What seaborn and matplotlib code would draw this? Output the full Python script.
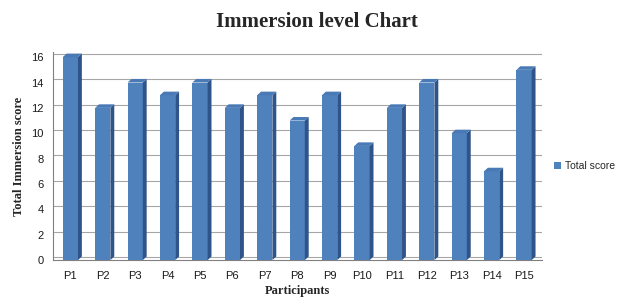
import matplotlib
matplotlib.use("Agg")
import matplotlib.pyplot as plt
from matplotlib.patches import Polygon
import seaborn as sns
import pandas as pd

participants = ["P1", "P2", "P3", "P4", "P5", "P6", "P7", "P8", "P9", "P10",
                "P11", "P12", "P13", "P14", "P15"]
total_score = [16, 12, 14, 13, 14, 12, 13, 11, 13, 9, 12, 14, 10, 7, 15]
yticks = [0, 2, 4, 6, 8, 10, 12, 14, 16]

df = pd.DataFrame({"Participant": participants, "Total score": total_score})

sns.set_theme(style="white")
plt.rcParams["font.family"] = ["Liberation Sans", "DejaVu Sans"]

fig = plt.figure(figsize=(6.33, 3.01), dpi=100)
ax = fig.add_axes([0.083, 0.136, 0.773, 0.691])

front = "#4F81BD"
side = "#2F5489"
sns.barplot(data=df, x="Participant", y="Total score", color=front,
            width=0.47, saturation=1, ax=ax, label="Total score", zorder=3,
            linewidth=0, edgecolor="none")

# 3D-like side and top faces derived from the bars
dx, dy = 0.12, 0.28
for p in list(ax.patches):
    x0, w, h = p.get_x(), p.get_width(), p.get_height()
    ax.add_patch(Polygon([(x0 + w, 0), (x0 + w, h), (x0 + w + dx, h + dy), (x0 + w + dx, dy)],
                         closed=True, facecolor=side, edgecolor="none", zorder=3))
    ax.add_patch(Polygon([(x0, h), (x0 + w, h), (x0 + w + dx, h + dy), (x0 + dx, h + dy)],
                         closed=True, facecolor="#4A7AB5", edgecolor="none", zorder=3))

ax.set_ylim(0, 16.4)
ax.set_xlim(-0.55, 14.55)
ax.set_yticks(yticks)
for t in yticks:
    ax.axhline(t + 0.25, color="#A6A6A6", lw=0.8, zorder=1)
ax.tick_params(axis="both", labelsize=8, length=3, color="#808080", colors="#1a1a1a")
ax.tick_params(axis="x", pad=5)
for s in ["top", "right"]:
    ax.spines[s].set_visible(False)
for s in ["left", "bottom"]:
    ax.spines[s].set_color("#808080")
    ax.spines[s].set_linewidth(0.8)

ax.set_xlabel("Participants", family=["Liberation Serif", "DejaVu Serif"],
              fontsize=9, fontweight="bold", labelpad=3)
ax.set_ylabel("Total Immersion score", family=["Liberation Serif", "DejaVu Serif"],
              fontsize=9, fontweight="bold", labelpad=4)
fig.suptitle("Immersion level Chart", family=["Liberation Serif", "DejaVu Serif"],
             fontsize=15, fontweight="bold", x=0.5, y=0.96)

leg = ax.legend(loc="center left", bbox_to_anchor=(1.005, 0.45), frameon=False,
                fontsize=7.5, handlelength=0.7, handleheight=0.7, handletextpad=0.4)

fig.savefig("out.png", dpi=100, facecolor="white")
